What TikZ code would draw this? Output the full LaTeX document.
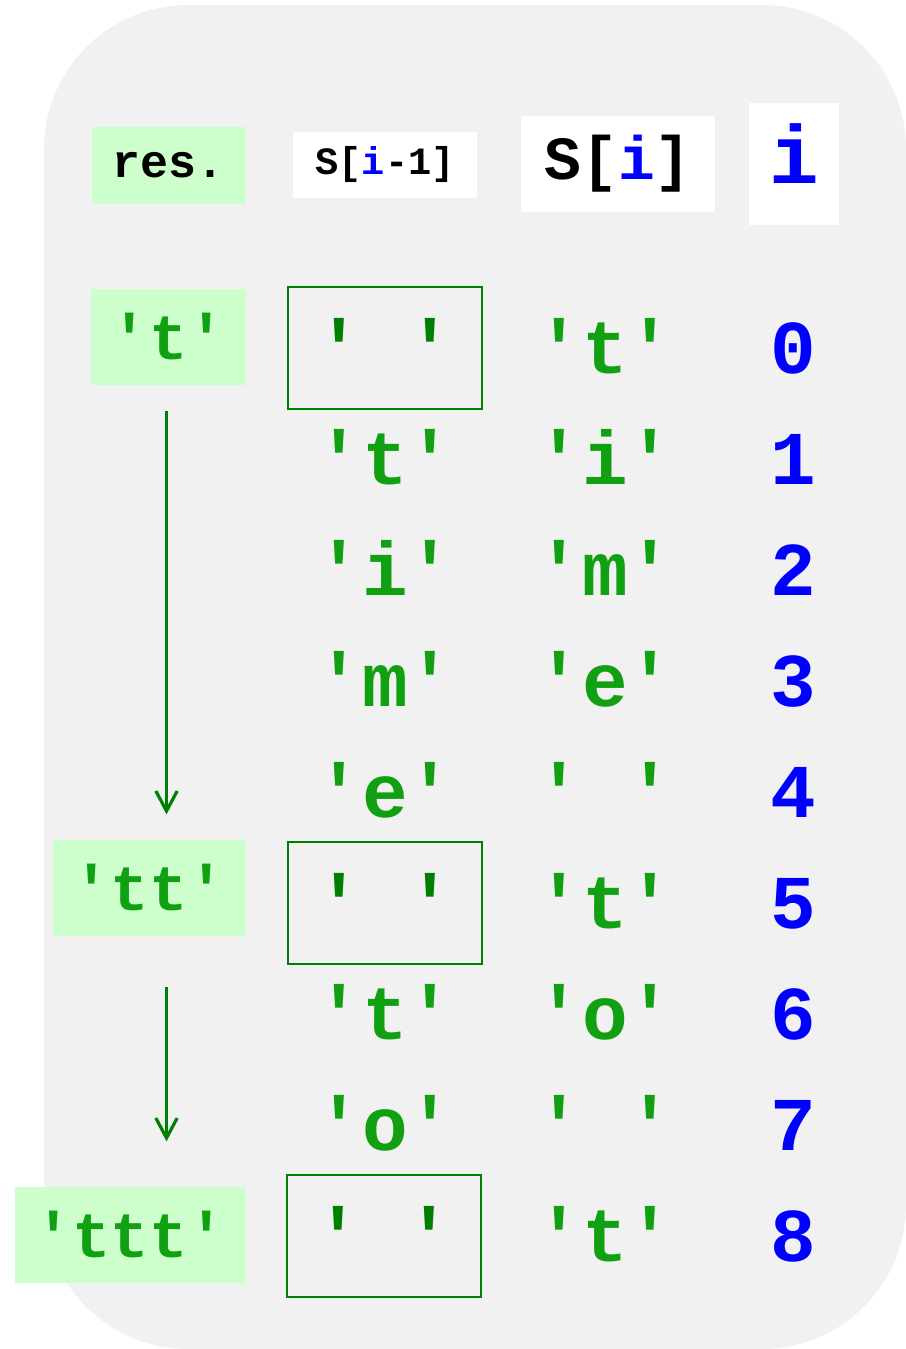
\documentclass[tikz,border=0pt]{standalone}
\usepackage{fontspec}
\setmonofont{Liberation Mono}
\usepackage{tikz}
\usetikzlibrary{arrows.meta}
\definecolor{CharGreen}{HTML}{11A011}
\definecolor{SpaceGreen}{HTML}{008000}
\definecolor{ResFill}{HTML}{CCFFCC}
\definecolor{PanelGray}{HTML}{F1F1F1}
\definecolor{IdxBlue}{HTML}{0000FF}

\begin{document}
\begin{tikzpicture}[
  x=0.75pt,y=-0.75pt,
  panel/.style={fill=PanelGray,rounded corners=108pt},
  hdr/.style={fill=white,inner sep=0pt},
  cell/.style={font=\ttfamily\bfseries\fontsize{57}{57}\selectfont,text=CharGreen,
    text height=38pt,text depth=0pt,inner sep=0pt},
  idx/.style={cell,text=IdxBlue},
  gap/.style={cell,draw=SpaceGreen,text=SpaceGreen,line width=0.9pt,
    minimum width=145.5pt,minimum height=91.5pt},
  res/.style={font=\ttfamily\bfseries\fontsize{48}{48}\selectfont,fill=ResFill,
    text=CharGreen,anchor=east,minimum height=72pt,inner xsep=14.7pt,inner ysep=0pt,
    text height=33pt,text depth=0pt},
  flow/.style={-{Straight Barb[length=15pt,width=16pt]},draw=SpaceGreen,line width=2.4pt}
]
\useasboundingbox (0,0) rectangle (906,1349);
\fill[panel] (44,5) rectangle (906,1349);

% column heads
\node[hdr,fill=ResFill,minimum width=115.5pt,minimum height=57.75pt,
  font=\ttfamily\bfseries\fontsize{35}{35}\selectfont] (hres) at (169,165) {res.};
\node[hdr,minimum width=138pt,minimum height=50pt,
  font=\ttfamily\bfseries\fontsize{29}{29}\selectfont] (hprev) at (385,165)
  {S[\textcolor{IdxBlue}{i}-1]};
\node[hdr,minimum width=145.5pt,minimum height=72pt,
  font=\ttfamily\bfseries\fontsize{46}{46}\selectfont] (hcur) at (618,164)
  {S[\textcolor{IdxBlue}{i}]};
\node[hdr,minimum width=67.5pt,minimum height=91.5pt,text=IdxBlue,text depth=16pt,
  font=\ttfamily\bfseries\fontsize{62}{62}\selectfont] (hidx) at (794,164) {i};

% index column
\node[idx] (n0) at (793,348) {0};
\node[idx] (n1) at (793,459) {1};
\node[idx] (n2) at (793,570) {2};
\node[idx] (n3) at (793,681) {3};
\node[idx] (n4) at (793,792) {4};
\node[idx] (n5) at (793,903) {5};
\node[idx] (n6) at (793,1014) {6};
\node[idx] (n7) at (793,1125) {7};
\node[idx] (n8) at (793,1236) {8};

% S[i]
\node[cell] (c0) at (605,348) {'t'};
\node[cell] (c1) at (605,459) {'i'};
\node[cell] (c2) at (605,570) {'m'};
\node[cell] (c3) at (605,681) {'e'};
\node[cell] (c4) at (605,792) {' '};
\node[cell] (c5) at (605,903) {'t'};
\node[cell] (c6) at (605,1014) {'o'};
\node[cell] (c7) at (605,1125) {' '};
\node[cell] (c8) at (605,1236) {'t'};

% S[i-1], spaces boxed
\node[gap] (p0) at (385,348) {' '};
\node[cell] (p1) at (385,459) {'t'};
\node[cell] (p2) at (385,570) {'i'};
\node[cell] (p3) at (385,681) {'m'};
\node[cell] (p4) at (385,792) {'e'};
\node[gap] (p5) at (385,903) {' '};
\node[cell] (p6) at (385,1014) {'t'};
\node[cell] (p7) at (385,1125) {'o'};
\node[gap] (p8) at (384,1236) {' '};

% result so far
\node[res] (r1) at (246,337) {'t'};
\node[res] (r2) at (246,888) {'tt'};
\node[res] (r3) at (246,1235) {'ttt'};

\draw[flow,shorten <=19pt,shorten >=19pt] ([xshift=-1.5pt]r1.south) -- ([xshift=-1.5pt]r1.south |- r2.north);
\draw[flow,shorten <=38pt,shorten >=34pt] ([xshift=-1.5pt]r1.south |- r2.south) -- ([xshift=-1.5pt]r1.south |- r3.north);
\end{tikzpicture}
\end{document}
